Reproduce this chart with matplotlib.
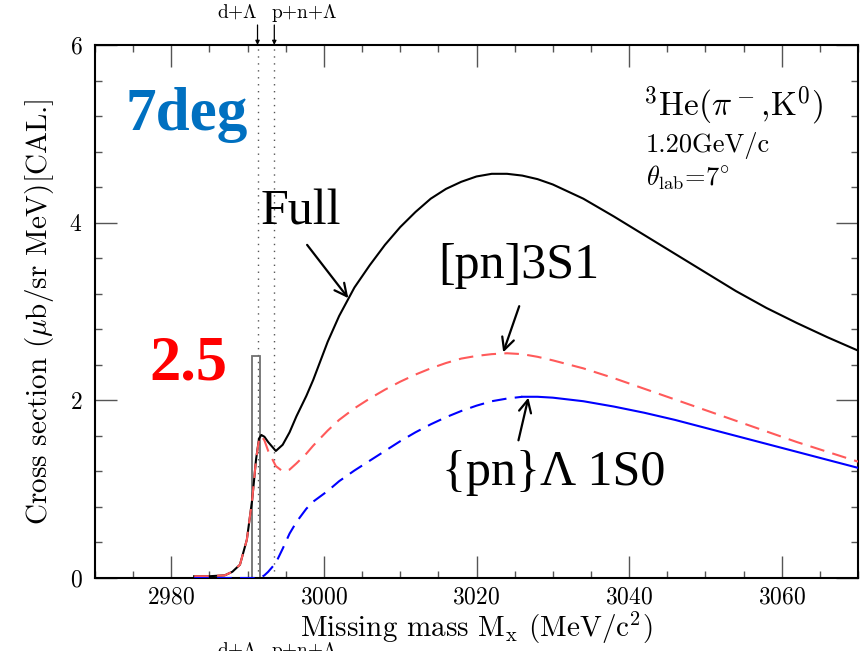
import matplotlib
matplotlib.use("Agg")
import matplotlib.pyplot as plt
from matplotlib.ticker import MultipleLocator

plt.rcParams["font.family"] = ["cmr10", "DejaVu Serif"]
plt.rcParams["mathtext.fontset"] = "cm"
plt.rcParams["axes.formatter.use_mathtext"] = True

# Missing-mass grid (MeV/c^2) and calculated spectra (ub/sr MeV)
mass = [2983, 2985, 2987, 2988, 2989, 2989.9, 2990.6, 2991.1, 2991.5, 2991.8,
        2992.2, 2992.7, 2993.7, 2994.6, 2995.5, 2996.4, 2997.7, 2998.6, 3000.5,
        3002, 3004, 3006, 3008, 3010, 3012, 3014, 3016, 3018, 3020, 3022, 3024,
        3026, 3028, 3030, 3034, 3038, 3042, 3046, 3050, 3054, 3058, 3062, 3066,
        3070]

full = [0.02, 0.02, 0.03, 0.07, 0.15, 0.43, 0.88, 1.33, 1.57, 1.61,
        1.59, 1.53, 1.43, 1.50, 1.64, 1.82, 2.05, 2.23, 2.66,
        2.95, 3.27, 3.52, 3.75, 3.95, 4.12, 4.27, 4.38, 4.46, 4.52, 4.55, 4.55,
        4.53, 4.49, 4.43, 4.27, 4.07, 3.86, 3.65, 3.44, 3.23, 3.04, 2.87, 2.71,
        2.56]

pn_3s1 = [0.02, 0.02, 0.03, 0.07, 0.15, 0.43, 0.88, 1.33, 1.56, 1.60,
          1.55, 1.43, 1.26, 1.20, 1.22, 1.29, 1.40, 1.49, 1.66,
          1.78, 1.91, 2.02, 2.12, 2.21, 2.29, 2.36, 2.42, 2.47, 2.50, 2.52, 2.53,
          2.52, 2.49, 2.45, 2.36, 2.25, 2.13, 2.01, 1.89, 1.77, 1.65, 1.53, 1.42,
          1.31]

pnl_1s0 = [0.0, 0.0, 0.0, 0.0, 0.0, 0.0, 0.0, 0.0, 0.0, 0.01,
           0.03, 0.07, 0.17, 0.33, 0.50, 0.63, 0.78, 0.86, 0.98,
           1.09, 1.21, 1.32, 1.43, 1.54, 1.64, 1.73, 1.81, 1.88, 1.94, 1.99, 2.02,
           2.04, 2.04, 2.03, 1.99, 1.93, 1.86, 1.78, 1.69, 1.60, 1.51, 1.42, 1.33,
           1.24]
dashed_until = 3026   # the {pn}Lambda curve switches from dashed to solid here

# Breakup thresholds
thresholds = [2991.3, 2993.5]
threshold_labels = [r"d+$\Lambda$", r"p+n+$\Lambda$"]

# Bound-state bar
bar_center = 2991.1
bar_width = 1.1
bar_height = 2.5

fig = plt.figure(figsize=(8.66, 6.51), dpi=100)
ax = fig.add_axes([95 / 866, 1 - 578 / 651, (858 - 95) / 866, (578 - 45) / 651])

ax.set_xlim(2970, 3070)
ax.set_ylim(0, 6)

for t in thresholds:
    ax.axvline(t, color="#555555", lw=1.0, ls=(0, (1, 4)), zorder=1)

ax.bar(bar_center, bar_height, width=bar_width, fill=False,
       edgecolor="#707070", lw=1.3, zorder=2)

ax.plot(mass, full, color="black", lw=1.5, zorder=3)
ax.plot(mass, pn_3s1, color="#ff5a5a", lw=1.5, ls=(0, (7, 4)), zorder=4)
i_sw = mass.index(dashed_until)
ax.plot(mass[:i_sw + 1], pnl_1s0[:i_sw + 1], color="#0000ff", lw=1.5,
        ls=(0, (7, 4)), zorder=4)
ax.plot(mass[i_sw:], pnl_1s0[i_sw:], color="#0000ff", lw=1.5, zorder=4)

# Axes styling
for s in ax.spines.values():
    s.set_linewidth(1.5)
ax.xaxis.set_major_locator(MultipleLocator(20))
ax.xaxis.set_minor_locator(MultipleLocator(5))
ax.yaxis.set_major_locator(MultipleLocator(2))
ax.yaxis.set_minor_locator(MultipleLocator(0.4))
ax.tick_params(which="both", direction="in", top=True, right=True,
               color="#555555", width=1.0, labelsize=17)
ax.tick_params(which="major", length=16)
ax.tick_params(which="minor", length=5)
ax.tick_params(axis="x", which="major", pad=6)
ax.tick_params(axis="y", which="major", pad=9)

ax.set_xlabel(r"Missing mass M$_{\rm x}$ (MeV/c$^2$)", fontsize=21, labelpad=1)
ax.set_ylabel(r"Cross section ($\mu$b/sr MeV)[CAL.]", fontsize=21, labelpad=10)

# Reaction info
ax.text(3041.8, 5.21, r"$^3$He($\pi^-$,K$^0$)", fontsize=24, va="baseline")
ax.text(3042.2, 4.80, "1.20GeV/c", fontsize=19, va="baseline")
ax.text(3042.2, 4.42, r"$\theta_{\rm lab}$=7$^{\circ}$", fontsize=19, va="baseline")

# Threshold markers above the frame, repeated under the axis title
for t, lab, side in zip(thresholds, threshold_labels, ["right", "left"]):
    ax.annotate("", xy=(t, 1.0), xycoords=("data", "axes fraction"),
                xytext=(0, 20), textcoords="offset pixels",
                arrowprops=dict(arrowstyle="-|>", color="black", lw=0.9,
                                mutation_scale=6, shrinkA=0, shrinkB=0))
    off = 0 if side == "right" else -3
    ax.annotate(lab, xy=(t, 1.0), xycoords=("data", "axes fraction"),
                xytext=(off, 27), textcoords="offset pixels",
                ha=side, va="baseline", fontsize=14)
    ax.annotate(lab, xy=(t, 0.0), xycoords=("data", "axes fraction"),
                xytext=(off, -78), textcoords="offset pixels",
                ha=side, va="baseline", fontsize=14, annotation_clip=False)

serif = ["Liberation Serif", "DejaVu Serif"]
ax.text(2982.0, 5.21, "7deg", fontsize=44, fontweight="bold", color="#0070c0",
        ha="center", va="center", family=serif)
ax.text(2982.3, 2.40, "2.5", fontsize=45, fontweight="bold", color="#ff0000",
        ha="center", va="center", family=serif)

ax.text(2997.0, 4.12, "Full", fontsize=36, ha="center", va="center", family=serif)
ax.text(3025.5, 3.52, "[pn]3S1", fontsize=36, ha="center", va="center", family=serif)
ax.text(3030.1, 1.19, "{pn}\u039b 1S0", fontsize=36, ha="center", va="center",
        family=serif)

arrow = dict(arrowstyle="->", color="black", lw=1.6, mutation_scale=22,
             shrinkA=0, shrinkB=0)
ax.annotate("", xy=(3003.2, 3.15), xytext=(2997.8, 3.75), arrowprops=arrow)
ax.annotate("", xy=(3023.5, 2.54), xytext=(3025.6, 3.06), arrowprops=arrow)
ax.annotate("", xy=(3026.8, 2.03), xytext=(3025.5, 1.55), arrowprops=arrow)

fig.savefig("out.png", dpi=100)
